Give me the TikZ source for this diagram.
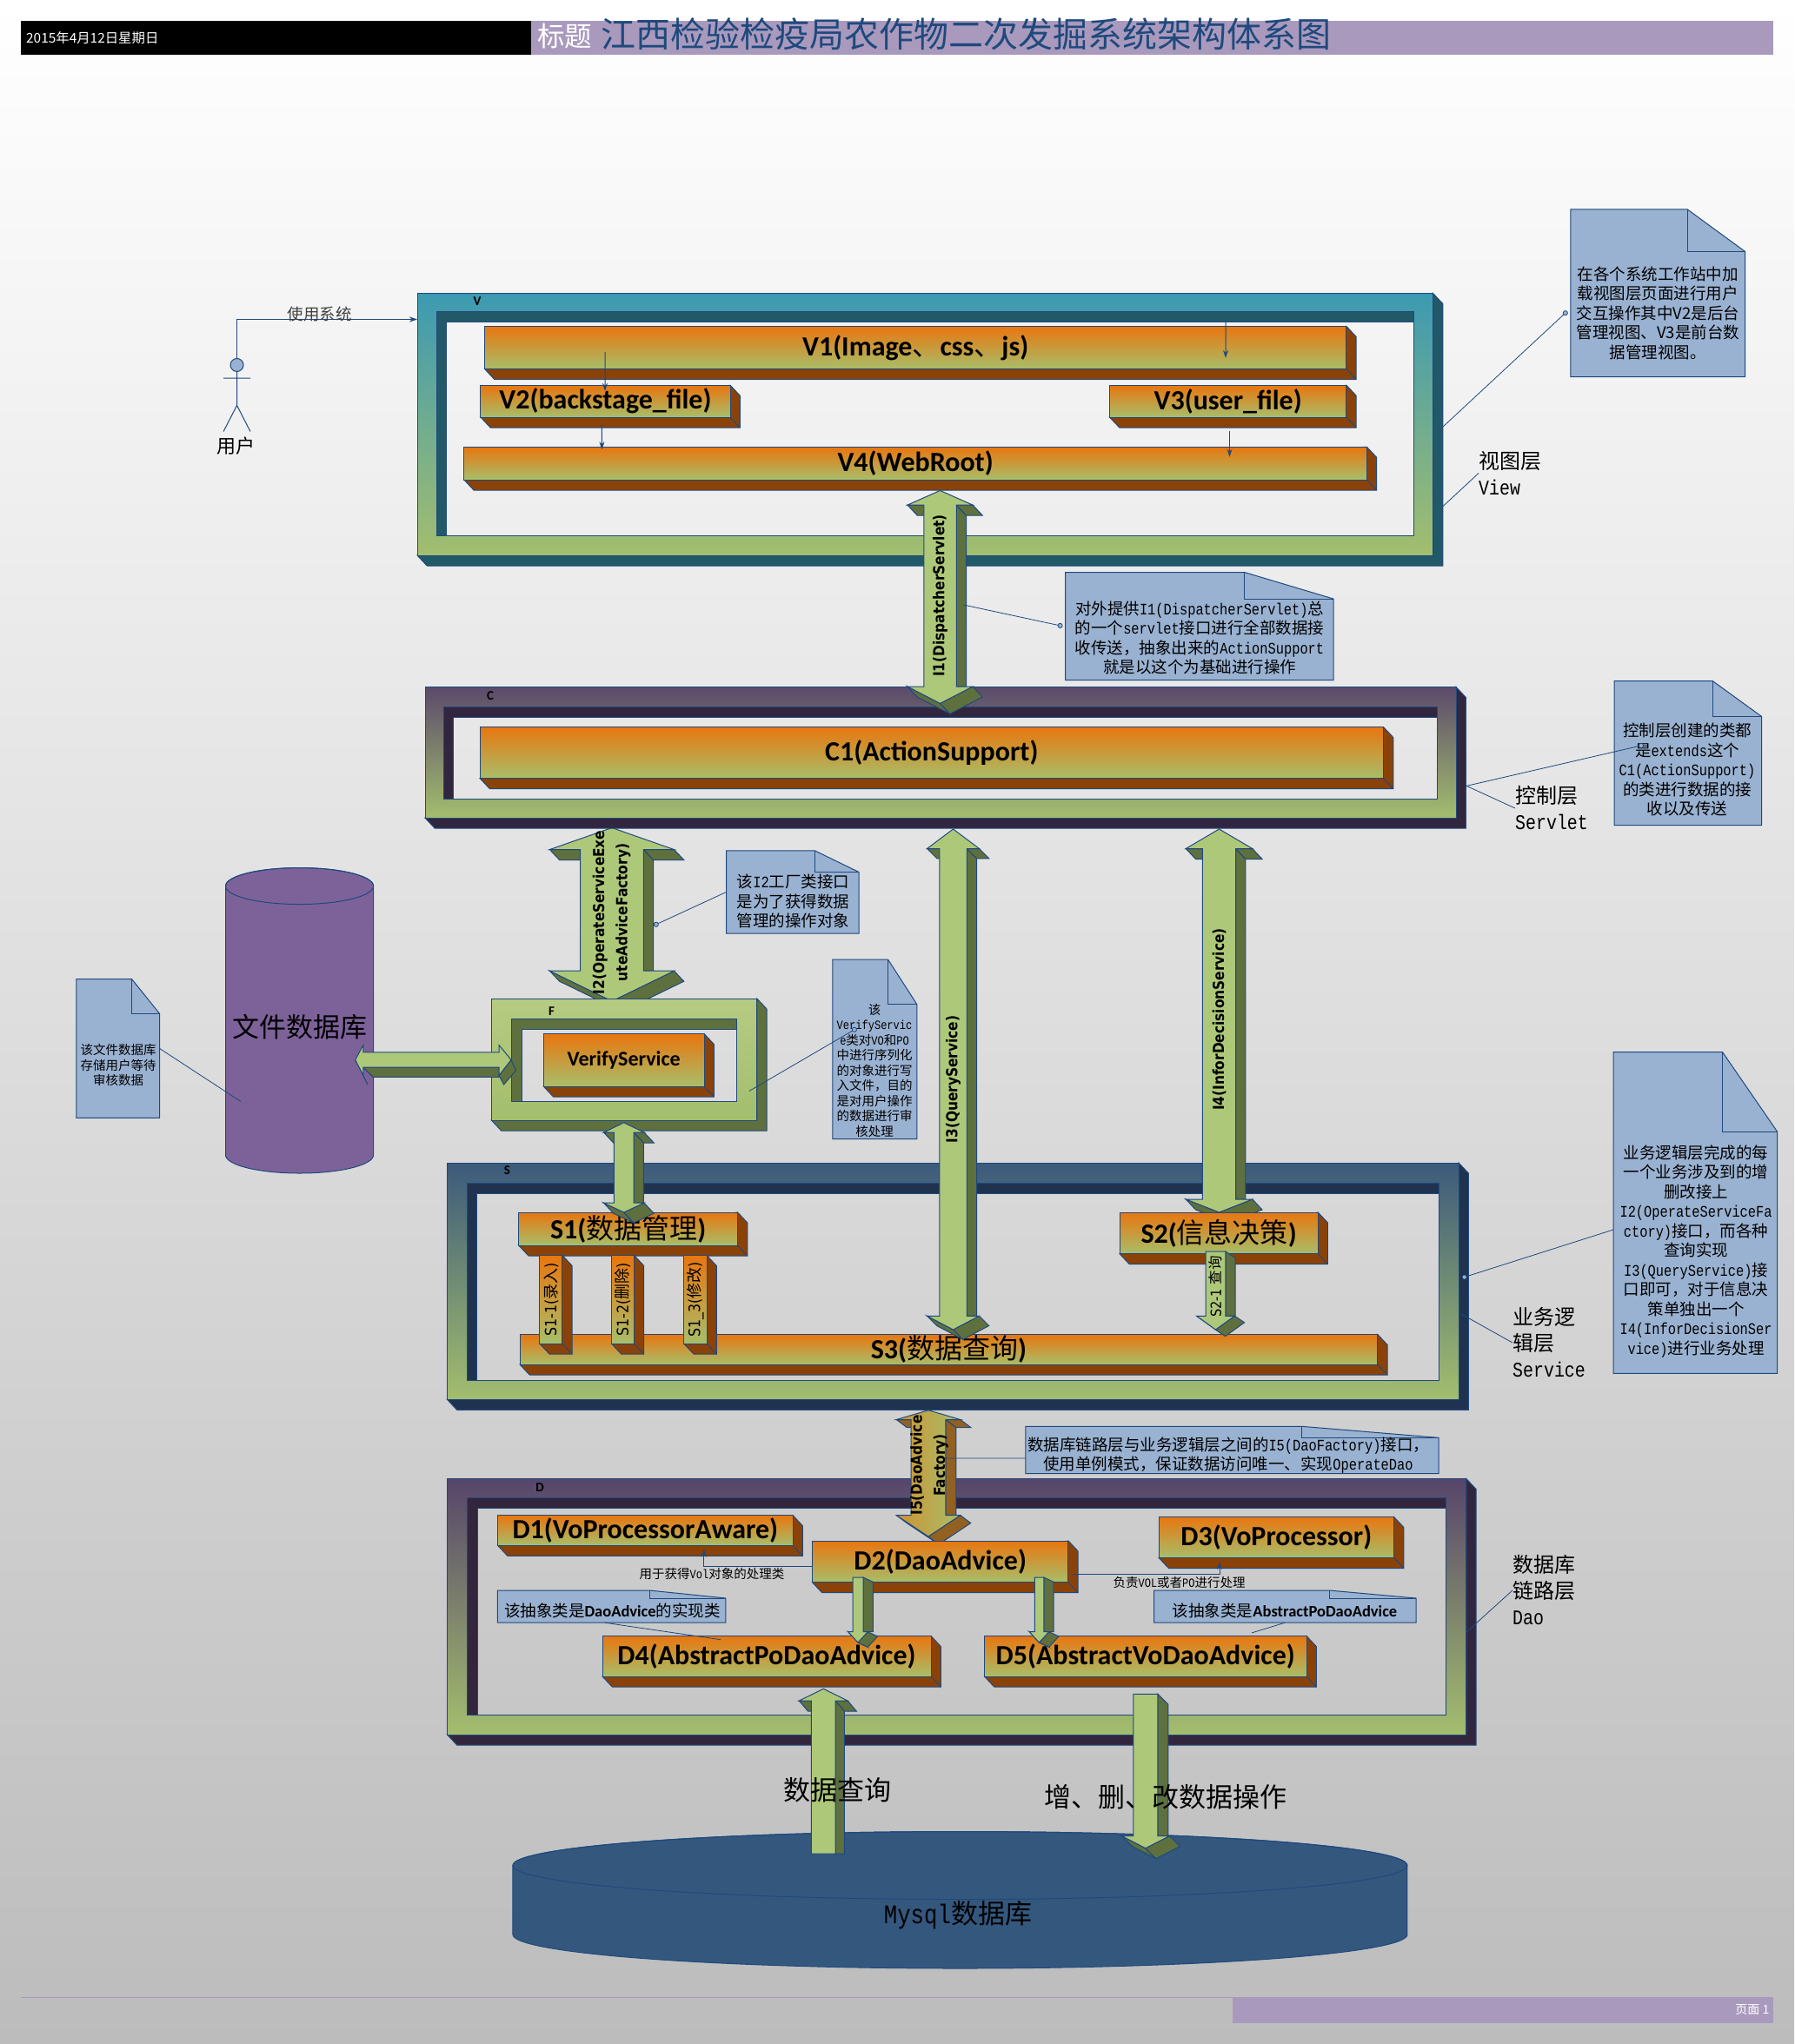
\documentclass[tikz,border=0pt]{standalone}
\usepackage{fontspec}
\usetikzlibrary{arrows.meta,shapes.geometric}
\setmainfont{Carlito}
\newfontfamily\cjk{Noto Sans CJK SC}
\newfontfamily\lat[FakeStretch=0.83]{Liberation Mono}
\newfontfamily\arw[FakeStretch=0.88]{DejaVu Sans}
\newcommand{\ltn}[1]{{\lat #1}}

\definecolor{edgeblue}{HTML}{1F497D}
\definecolor{bggray}{HTML}{BCBCBC}
\definecolor{headpurple}{HTML}{A99ABD}
\definecolor{noteblue}{HTML}{9AB2D1}
\definecolor{orangetop}{HTML}{E8760F}
\definecolor{olivebot}{HTML}{A8BE6A}
\definecolor{boxbrown}{HTML}{8B4208}
\definecolor{arrowgreen}{HTML}{AEC87A}
\definecolor{arrowdark}{HTML}{5F703F}
\definecolor{framebot}{HTML}{A3BE6E}
\definecolor{vtop}{HTML}{3C9AB2}
\definecolor{vdark}{HTML}{215968}
\definecolor{ctop}{HTML}{5B4A6B}
\definecolor{cdark}{HTML}{32263F}
\definecolor{ftop}{HTML}{B5CB82}
\definecolor{fdark}{HTML}{5F703F}
\definecolor{stop}{HTML}{3C5A7C}
\definecolor{sdark}{HTML}{1F3350}
\definecolor{dtop}{HTML}{56456B}
\definecolor{ddark}{HTML}{32263F}
\definecolor{filepurple}{HTML}{7D629A}
\definecolor{mysqlblue}{HTML}{34577D}

\tikzset{
	edge/.style={draw=edgeblue,line width=1pt},
	boxfront/.style={edge,top color=orangetop,bottom color=olivebot,inner sep=0,outer sep=0},
	boxside/.style={edge,fill=boxbrown},
	arrowface/.style={edge,fill=arrowgreen},
	arrowside/.style={edge,fill=arrowdark},
	arrowtext/.style={font=\arw\bfseries\fontsize{17.5}{26.5}\selectfont,align=center,inner sep=0},
	notetext/.style={font=\cjk\fontsize{18.5}{22.5}\selectfont,align=center,inner sep=0},
	notesmall/.style={font=\cjk\fontsize{14.5}{17.5}\selectfont,align=center,inner sep=0},
	bigtext/.style={font=\cjk\fontsize{31}{36}\selectfont,inner sep=0},
	layertext/.style={font=\cjk\fontsize{24}{30}\selectfont,align=left,anchor=west,inner sep=0},
	framelabel/.style={font=\bfseries\fontsize{15}{15}\selectfont,inner sep=0},
	flow/.style={edge,-{Stealth[length=9pt,width=6pt]}},
	leader/.style={draw=edgeblue,line width=0.8pt},
	dotend/.style={leader,-{Circle[length=6pt,fill=noteblue]}},
	dotstart/.style={leader,{Circle[length=6pt,fill=noteblue]}-}
}

% frame: name, outer x0 y0 x1 y1, hole x0 y0 x1 y1
\newcommand{\layerframe}[9]{
	\draw[edge,fill=#1dark] (#4,#3) -- ({#4+7.5},{#3+8}) -- ({#4+7.5},{#5+8}) -- ({#2+7.5},{#5+8}) -- (#2,#5) -- (#4,#5) -- cycle;
	\shade[even odd rule,top color=#1top,bottom color=framebot] (#2,#3) rectangle (#4,#5) (#6,#7) rectangle (#8,#9);
	\draw[edge] (#2,#3) rectangle (#4,#5) (#6,#7) rectangle (#8,#9);
	\draw[edge,fill=#1dark] (#6,#7) -- (#8,#7) -- (#8,{#7+8}) -- ({#6+7.5},{#7+8}) -- ({#6+7.5},#9) -- (#6,#9) -- cycle;
	\node[inner sep=0,outer sep=0,minimum width={(#4-#2)*1.5},minimum height={(#5-#3)*1.5}] (#1frame) at ({(#2+#4)/2},{(#3+#5)/2}) {};
}
% box: font size, name, x0 y0 x1 y1, text
\newcommand{\blockbox}[7][32]{
	\draw[boxside] (#5,#4) -- ({#5+7.5},{#4+8}) -- ({#5+7.5},{#6+8}) -- ({#3+7.5},{#6+8}) -- (#3,#6) -- cycle;
	\draw[edge] (#5,#6) -- ({#5+7.5},{#6+8});
	\node[boxfront,font=\bfseries\fontsize{#1}{#1}\selectfont,minimum width={(#5-#3)*1.5},minimum height={(#6-#4)*1.5}] (#2) at ({(#3+#5)/2},{(#4+#6)/2}) {#7};
}
% arrow: cx, tip, shoulder, shoulder, tip, half shaft, half head, half head
\def\adx{7.5}\def\ady{8}
\newcommand{\blockarrow}[8]{
	\draw[arrowside] ({#1+#6},#3) -- ({#1+#6+\adx},{#3+\ady}) -- ({#1+#6+\adx},#4) -- ({#1+#6},#4) -- cycle;
	\ifdim #7pt>#6pt
		\draw[arrowside] ({#1-#7},#3) -- ({#1-#6},#3) -- ({#1-#6+\adx},{#3+\ady}) -- ({#1-#7+\adx},{#3+\ady}) -- cycle;
		\draw[arrowside] ({#1+#6},#3) -- ({#1+#7},#3) -- ({#1+#7+\adx},{#3+\ady}) -- ({#1+#6+\adx},{#3+\ady}) -- cycle;
	\fi
	\ifdim #8pt>#6pt
		\draw[arrowside] ({#1-#8},#4) -- (#1,#5) -- ({#1+\adx},{#5+\ady}) -- ({#1-#8+\adx},{#4+\ady}) -- cycle;
		\draw[arrowside] (#1,#5) -- ({#1+#8},#4) -- ({#1+#8+\adx},{#4+\ady}) -- ({#1+\adx},{#5+\ady}) -- cycle;
	\fi
	\draw[arrowface] (#1,#2) -- ({#1+#7},#3) -- ({#1+#6},#3) -- ({#1+#6},#4) -- ({#1+#8},#4) -- (#1,#5) -- ({#1-#8},#4) -- ({#1-#6},#4) -- ({#1-#6},#3) -- ({#1-#7},#3) -- cycle;
}
% note: name, x0 y0 x1 y1, fold x, fold y
\newcommand{\notebox}[7]{
	\draw[edge,fill=noteblue] (#2,#3) -- (#6,#3) -- (#4,#7) -- (#4,#5) -- (#2,#5) -- cycle;
	\draw[edge] (#6,#3) -- (#6,#7) -- (#4,#7);
	\node[inner sep=0,outer sep=0,minimum width={(#4-#2)*1.5},minimum height={(#5-#3)*1.5}] (#1) at ({(#2+#4)/2},{(#3+#5)/2}) {};
}
% cylinder: cx, top, bottom, rx, ry, colour
\newcommand{\dbcylinder}[6]{
	\draw[edge,fill=#6] ({#1-#4},{#2+#5}) -- ({#1-#4},{#3-#5}) arc[start angle=180,end angle=360,x radius={#4*1.5pt},y radius={#5*1.5pt}] -- ({#1+#4},{#2+#5}) arc[start angle=0,end angle=180,x radius={#4*1.5pt},y radius={#5*1.5pt}] -- cycle;
	\draw[edge] (#1,{#2+#5}) ellipse[x radius={#4*1.5pt},y radius={#5*1.5pt}];
}

\begin{document}
\begin{tikzpicture}[x=1.5pt,y=-1.5pt]
	\useasboundingbox (0,0) rectangle (1376,1568);
	\shade[top color=white,bottom color=bggray] (0,0) rectangle (1376,1568);

	% header and footer
	\fill[black] (16,16) rectangle (407,42);
	\fill[headpurple] (407,16) rectangle (1360,42);
	\node[font=\cjk\fontsize{15.4}{16}\selectfont,text=white,anchor=west,inner sep=0] (datetext) at (20,29) {2015年4月12日星期日};
	\node[font=\cjk\fontsize{31.5}{32}\selectfont,text=white,inner sep=0] (titlehead) at (433,28) {标题};
	\node[font=\cjk\fontsize{40}{40}\selectfont,text=edgeblue,inner sep=0] (titletext) at (741,26) {江西检验检疫局农作物二次发掘系统架构体系图};
	\draw[headpurple,line width=1pt] (16,1532) -- (945,1532);
	\fill[headpurple] (945,1532) rectangle (1360,1552);
	\node[font=\cjk\fontsize{14}{14}\selectfont,text=white,anchor=east,inner sep=0] (pagetext) at (1357,1542) {页面 1};

	% databases
	\dbcylinder{229.7}{665.7}{900}{56.7}{14}{filepurple}
	\node[bigtext] (filedb) at (230,788) {文件数据库};
	\dbcylinder{736.3}{1405}{1510}{343}{26}{mysqlblue}
	\node[bigtext] (mysqldb) at (734.6,1469) {\ltn{Mysql}数据库};

	% arrow under the frames
	\blockarrow{469.3}{635}{651.7}{744.8}{768}{24.3}{47.7}{47.7}
	\node[arrowtext,rotate=90] (itwo) at (469,700) {I2(OperateServiceExe\\uteAdviceFactory)};

	% view layer
	\layerframe{v}{320}{225}{1099}{426}{335}{239}{1084}{411}
	\node[framelabel] (vname) at (366,231) {V};
	\blockbox{vone}{371.7}{250.3}{1032.6}{283}{V1(Image{\cjk\mdseries 、}css{\cjk\mdseries 、}js)}
	\blockbox{vtwo}{368.6}{295.5}{560}{320}{V2(backstage\_file)}
	\blockbox{vthree}{851}{295.5}{1032.6}{320}{V3(user\_file)}
	\blockbox{vfour}{355.9}{342.9}{1048.3}{368}{V4(WebRoot)}
	\coordinate (vtopin) at (940,245);
	\draw[flow] ([shift={(92.3,-13)}]vone.south west) -- ([shift={(-0.3,4.5)}]vtwo.north);
	\draw[flow] (vtopin) -- ([shift={(-92.6,24.3)}]vone.north east);
	\draw[flow] ([shift={(-2.7,5.6)}]vtwo.south) -- ([shift={(105.7,2)}]vfour.north west);
	\draw[flow] ([shift={(1.2,10.5)}]vthree.south) -- ([shift={(-105.3,7.6)}]vfour.north east);

	% control layer
	\layerframe{c}{326}{527}{1116.7}{627.4}{340}{542.5}{1102}{612.8}
	\node[framelabel] (cname) at (376,534) {C};
	\blockbox{cone}{368}{557.7}{1061}{597}{C1(ActionSupport)}

	\blockarrow{721}{376.3}{387.4}{526.7}{539.6}{12.5}{25}{25}
	\node[arrowtext,rotate=90] (ione) at (721,457) {I1(DispatcherServlet)};

	% file frame
	\layerframe{f}{377}{766}{580.5}{859.4}{392.6}{781.5}{565}{844.8}
	\node[framelabel] (fname) at (423,776) {F};
	\blockbox[24]{fverify}{416.9}{793}{540}{833.4}{VerifyService}

	\draw[arrowside] (278.6,818.8) -- (382.7,818.8) -- (382.7,826.3) -- (286,826.3) -- cycle;
	\draw[arrowside] (272.5,813) -- (278.6,825) -- (282,832) -- (276,820) -- cycle;
	\draw[arrowside] (392,813) -- (382.7,825) -- (386.4,832) -- (395.7,821) -- cycle;
	\draw[arrowface] (272.5,813) -- (278.6,801.7) -- (278.6,807.3) -- (382.7,807.3) -- (382.7,801.7) -- (392,813) -- (382.7,825) -- (382.7,818.8) -- (278.6,818.8) -- (278.6,825) -- cycle;

	% service layer
	\layerframe{s}{343}{892}{1118.7}{1073.6}{358.4}{907.5}{1103.6}{1058.7}
	\node[framelabel] (sname) at (389,898) {S};
	\blockarrow{935}{636}{651}{920}{930}{12.7}{25.5}{25.5}
	\node[arrowtext,rotate=90] (ifour) at (935,782) {I4(InforDecisionService)};
	\blockbox{sone}{397.9}{930}{565.7}{955.4}{S1({\cjk\mdseries 数据管理})}
	\blockbox{stwo}{858.7}{930}{1010.8}{961.8}{S2({\cjk\mdseries 信息决策})}
	\blockbox{sthree}{398.7}{1023.6}{1056.5}{1046.7}{S3({\cjk\mdseries 数据查询})}
	\blockbox[18]{sonea}{413.9}{963}{431.3}{1030.7}{\rotatebox{90}{\arw\mdseries S1-1({\cjk 录入})}}
	\blockbox[18]{soneb}{469}{963}{486.3}{1030.7}{\rotatebox{90}{\arw\mdseries S1-2({\cjk 删除})}}
	\blockbox[18]{sonec}{524.5}{963}{542}{1030.7}{\rotatebox{90}{\arw\mdseries S1\_3({\cjk 修改})}}

	\def\ady{7.5}
	\blockarrow{731}{636}{651}{1009.5}{1020}{10.5}{20}{20}
	\node[arrowtext,rotate=90] (ithree) at (731,828) {I3(QueryService)};
	\def\ady{5}
	\blockarrow{932.3}{960}{960}{1009.5}{1020}{7.6}{7.6}{14.6}
	\node[font=\arw\fontsize{16.5}{16.5}\selectfont,rotate=90,inner sep=0] (stwoa) at (932.3,987) {S2-1 {\cjk 查询}};
	\def\ady{8}
	\blockarrow{478.5}{861.2}{868.7}{922.8}{930}{7.6}{15.5}{15.5}

	% dao layer
	\layerframe{d}{343}{1134.4}{1124.6}{1330.7}{358.6}{1149.3}{1108.7}{1315.5}
	\node[framelabel] (dname) at (414,1141) {D};
	\begin{scope}[arrowface/.style={edge,left color=orangetop!60!olivebot,right color=olivebot},arrowside/.style={edge,fill=boxbrown!75!olivebot}]
		\def\adx{8}\def\ady{6}
		\blockarrow{712}{1081.8}{1089}{1162.4}{1178.7}{13.3}{24.5}{24.5}
		\node[arrowtext,rotate=90] (ifive) at (712.8,1124) {I5(DaoAdvice\\Factory)};
	\end{scope}
	\blockbox{done}{381.8}{1162.4}{608}{1185.6}{D1(VoProcessorAware)}
	\blockbox{dtwo}{623}{1182}{819.3}{1213.8}{D2(DaoAdvice)}
	\blockbox{dthree}{888.8}{1163.6}{1069}{1195}{D3(VoProcessor)}
	\blockbox{dfour}{462}{1255}{714}{1286}{D4(AbstractPoDaoAdvice)}
	\blockbox{dfive}{755}{1255}{1002}{1286}{D5(AbstractVoDaoAdvice)}
	\draw[flow] ([shift={(0,4)}]dtwo.west) -| ([shift={(45,2.8)}]done.south);
	\draw[flow] ([shift={(2,10)}]dtwo.east) -| ([shift={(-43.5,3)}]dthree.south);
	\node[font=\cjk\fontsize{14.5}{14.5}\selectfont,inner sep=0] (donetext) at (546,1207) {用于获得\ltn{Vol}对象的处理类};
	\node[font=\cjk\fontsize{14.5}{14.5}\selectfont,inner sep=0] (dthreetext) at (904.4,1214) {负责\ltn{VOL}或者\ltn{PO}进行处理};
	\def\adx{7.5}\def\ady{3.5}
	\blockarrow{658}{1210}{1210}{1251.8}{1260}{4}{4}{7.5}
	\blockarrow{797}{1210}{1210}{1251.8}{1260}{3.5}{3.5}{7.5}

	% data arrows
	\def\adx{6.8}\def\ady{8}
	\blockarrow{631.5}{1295.5}{1304.7}{1422}{1422}{9.3}{18.6}{9.3}
	\def\adx{8}
	\blockarrow{878.6}{1299.5}{1299.5}{1408.4}{1417.8}{9.3}{9.3}{18.3}
	\node[bigtext] (querytext) at (642.5,1373) {数据查询};
	\node[bigtext] (crudtext) at (893.9,1378.4) {增、删、改数据操作};

	% user
	\node[ellipse,edge,fill=noteblue,minimum width=15pt,minimum height=15pt,inner sep=0] (userhead) at (181.7,280) {};
	\draw[edge] (userhead.south) -- (181.7,311) -- (171.4,331) (181.7,311) -- (192,331) (171.4,290) -- (192,290);
	\node[font=\cjk\fontsize{22}{22}\selectfont,inner sep=0] (usertext) at (181,342) {用户};
	\draw[flow] (userhead.north) |- ([shift={(0,20)}]vframe.north west);
	\node[font=\cjk\fontsize{18.5}{18.5}\selectfont,text=black!75,inner sep=0] (usetext) at (245,241) {使用系统};

	% notes
	\notebox{notev}{1204.5}{160.5}{1338.4}{289}{1294}{193}
	\node[notetext] (notevtext) at (1271.6,240) {在各个系统工作站中加\\载视图层页面进行用户\\交互操作其中V2是后台\\管理视图、V3是前台数\\据管理视图。};
	\notebox{notei}{817}{439}{1022.7}{521.7}{954.4}{459.4}
	\node[notetext] (noteitext) at (920,489.5) {对外提供\ltn{I1(DispatcherServlet)}总\\的一个\ltn{servlet}接口进行全部数据接\\收传送，抽象出来的\ltn{ActionSupport}\\就是以这个为基础进行操作};
	\notebox{notec}{1238}{522.4}{1351}{633}{1313.5}{549.6}
	\node[notetext] (notectext) at (1294,590.5) {控制层创建的类都\\是\ltn{extends}这个\\\ltn{C1(ActionSupport)}\\的类进行数据的接\\收以及传送};
	\notebox{noteitwo}{557}{652.6}{658.7}{716}{625}{669}
	\node[notetext] (noteitwotext) at (608.4,691.5) {该\ltn{I2}工厂类接口\\是为了获得数据\\管理的操作对象};
	\notebox{notef}{638.5}{736}{703.2}{873.7}{681}{770.4}
	\node[notesmall] (noteftext) at (670.7,821) {该\\\ltn{VerifyServic}\\\ltn{e}类对\ltn{VO}和\ltn{PO}\\中进行序列化\\的对象进行写\\入文件，目的\\是对用户操作\\的数据进行审\\核处理};
	\notebox{notefile}{58.6}{751}{122.4}{857.6}{101}{777.6}
	\node[notesmall] (notefiletext) at (90.7,817) {该文件数据库\\存储用户等待\\审核数据};
	\notebox{notes}{1237.4}{807}{1363}{1053.6}{1321}{868}
	\node[notetext] (notestext) at (1300.7,960) {业务逻辑层完成的每\\一个业务涉及到的增\\删改接上\\\ltn{I2(OperateServiceFa}\\\ltn{ctory)}接口，而各种\\查询实现\\\ltn{I3(QueryService)}接\\口即可，对于信息决\\策单独出一个\\\ltn{I4(InforDecisionSer}\\\ltn{vice)}进行业务处理};
	\notebox{noteifive}{786.6}{1094.2}{1103.4}{1130.4}{998.3}{1102.9}
	\node[notetext] (noteifivetext) at (942,1116.4) {数据库链路层与业务逻辑层之间的\ltn{I5(DaoFactory)}接口，\\使用单例模式，保证数据访问唯一、实现\ltn{OperateDao}};
	\notebox{notedfour}{381.6}{1220}{556.6}{1244.8}{498}{1226}
	\node[notetext] (notedfourtext) at (469.6,1235.6) {该抽象类是{\rmfamily\bfseries DaoAdvice}的实现类};
	\notebox{notedfive}{885}{1220}{1086}{1244.8}{1019.4}{1226}
	\node[notetext] (notedfivetext) at (985.4,1235.6) {该抽象类是{\rmfamily\bfseries AbstractPoDaoAdvice}};

	% layer labels
	\node[layertext] (viewlabel) at (1134,363) {视图层\\\ltn{View}};
	\node[layertext] (servletlabel) at (1162,620) {控制层\\\ltn{Servlet}};
	\node[layertext] (servicelabel) at (1160,1030) {业务逻\\辑层\\\ltn{Service}};
	\node[layertext] (daolabel) at (1160,1220) {数据库\\链路层\\\ltn{Dao}};

	% leader lines
	\draw[dotend] ([shift={(7,2.5)}]vframe.east) -- ([shift={(-2.5,14)}]notev.west);
	\draw[leader] ([shift={(7,63.5)}]vframe.east) -- (viewlabel.west);
	\draw[dotend] ([shift={(18,7)}]ione.center) -- ([shift={(-2,0)}]notei.west);
	\draw[dotend] ([shift={(8,25.7)}]cframe.east) -- ([shift={(22.6,-6.2)}]notec.west);
	\draw[leader] ([shift={(8,25.7)}]cframe.east) -- (servletlabel.west);
	\draw[dotstart] ([shift={(32.4,10)}]itwo.center) -- (noteitwo.west);
	\draw[dotend] ([shift={(-6,24.3)}]fframe.east) -- ([shift={(18.5,-16)}]notef.west);
	\draw[leader] (notefile.east) -- ([shift={(-45.3,57)}]filedb.center);
	\draw[dotstart] ([shift={(2.5,-2.5)}]sframe.east) -- ([shift={(0,13)}]notes.west);
	\draw[leader] ([shift={(1.3,24.8)}]sframe.east) -- (servicelabel.west);
	\draw[leader] ([shift={(11.9,-5.3)}]ifive.center) -- ([shift={(0,6.4)}]noteifive.west);
	\draw[leader] ([shift={(0,19.5)}]dframe.east) -- (daolabel.west);
	\draw[leader] ([shift={(-5.3,0)}]notedfour.south) -- ([shift={(-35.2,2.8)}]dfour.north);
	\draw[leader] (notedfive.south) -- ([shift={(81.5,-2.4)}]dfive.north);
\end{tikzpicture}
\end{document}
